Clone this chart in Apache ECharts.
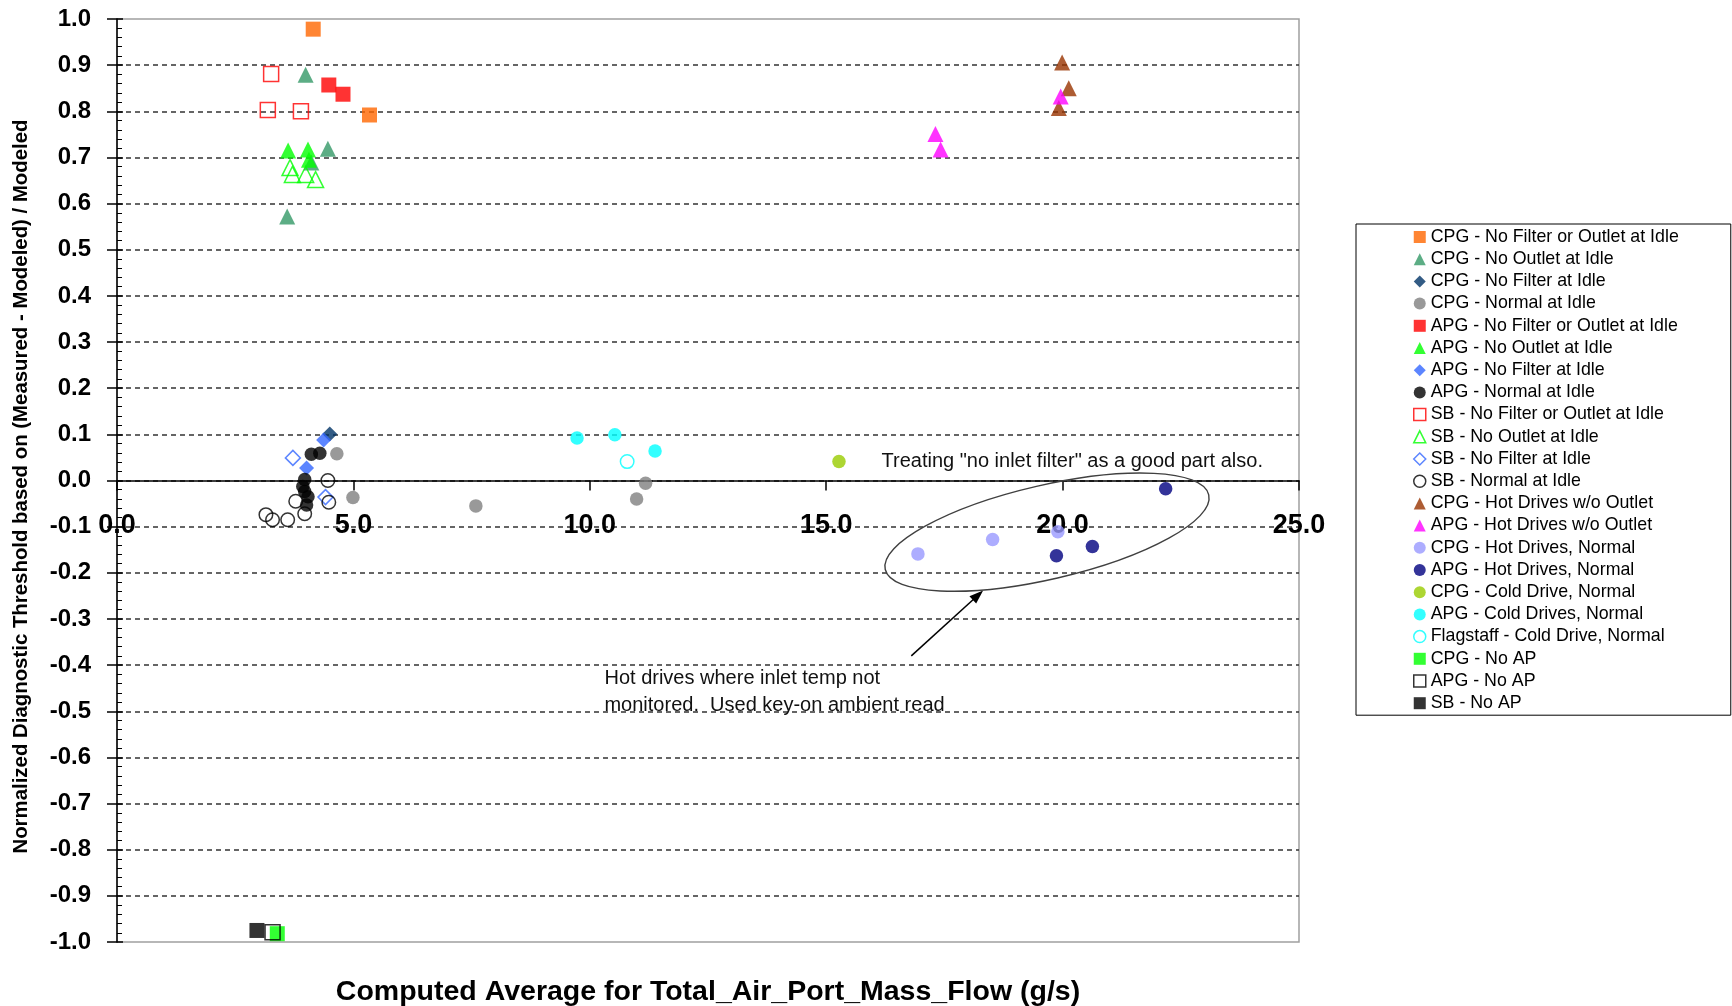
<!DOCTYPE html>
<html>
<head>
<meta charset="utf-8">
<script src="https://cdn.jsdelivr.net/npm/echarts@6/dist/echarts.min.js"></script>
<style>
html, body { margin: 0; padding: 0; background: #ffffff; }
#chart { width: 1732px; height: 1006px; }
</style>
</head>
<body>
<div id="chart"></div>
<script>
// Each point: [computed average Total_Air_Port_Mass_Flow (g/s), normalized diagnostic threshold]
const cpgNoFilterOrOutletIdle = [[4.15, 0.978], [5.34, 0.792]];
const cpgNoOutletIdle = [[3.99, 0.879], [4.46, 0.719], [3.60, 0.572], [4.11, 0.689]];
const cpgNoFilterIdle = [[4.50, 0.101]];
const cpgNormalIdle = [[4.65, 0.058], [4.99, -0.037], [7.59, -0.055], [10.99, -0.040], [11.18, -0.006]];
const apgNoFilterOrOutletIdle = [[4.48, 0.857], [4.78, 0.837]];
const apgNoOutletIdle = [[3.62, 0.715], [4.04, 0.717], [4.06, 0.695]];
const apgNoFilterIdle = [[4.37, 0.088], [4.01, 0.027]];
const apgNormalIdle = [[4.11, 0.057], [4.29, 0.059], [3.97, 0.002], [3.93, -0.013], [3.97, -0.024], [4.04, -0.035], [4.01, -0.053]];
const sbNoFilterOrOutletIdle = [[3.26, 0.881], [3.19, 0.803], [3.89, 0.800]];
const sbNoOutletIdle = [[3.66, 0.678], [3.71, 0.663], [3.99, 0.663], [4.20, 0.652]];
const sbNoFilterIdle = [[3.72, 0.049], [4.41, -0.036]];
const sbNormalIdle = [[3.15, -0.074], [3.29, -0.085], [3.61, -0.085], [3.97, -0.072], [3.78, -0.045], [4.46, 0.000], [4.48, -0.047]];
const cpgHotNoOutlet = [[19.99, 0.906], [20.13, 0.850], [19.92, 0.807]];
const apgHotNoOutlet = [[19.96, 0.832], [17.31, 0.751], [17.42, 0.717]];
const cpgHotNormal = [[16.94, -0.159], [18.52, -0.128], [19.90, -0.111]];
const apgHotNormal = [[22.18, -0.018], [19.87, -0.163], [20.63, -0.143]];
const cpgColdNormal = [[15.27, 0.041]];
const apgColdNormal = [[9.73, 0.092], [10.53, 0.099], [11.38, 0.064]];
const flagstaffColdNormal = [[10.79, 0.041]];
const cpgNoAP = [[3.39, -0.982]];
const apgNoAP = [[3.29, -0.979]];
const sbNoAP = [[2.96, -0.975]];

// Axis ranges
const xRange = { min: 0, max: 25, step: 5 };
const yRange = { min: -1, max: 1, step: 0.1 };

// Callouts (anchored in data units)
const goodPartNote = { text: 'Treating "no inlet filter" as a good part also.', at: [16.17, 0.042] };
const hotDriveNote = { lines: ['Hot drives where inlet temp not', 'monitored.  Used key-on ambient read'], at: [10.31, -0.428] };
const hotDriveRing = { center: [19.67, -0.112] };
const hotDriveArrow = { from: [16.80, -0.380], to: [18.21, -0.2485] };

const FONT = '"Liberation Sans", Arial, sans-serif';

const groups = [
  { name: 'CPG - No Filter or Outlet at Idle', data: cpgNoFilterOrOutletIdle, symbol: 'rect', color: '#FF6600' },
  { name: 'CPG - No Outlet at Idle', data: cpgNoOutletIdle, symbol: 'triangle', color: '#339966' },
  { name: 'CPG - No Filter at Idle', data: cpgNoFilterIdle, symbol: 'diamond', color: '#003366' },
  { name: 'CPG - Normal at Idle', data: cpgNormalIdle, symbol: 'circle', color: '#808080' },
  { name: 'APG - No Filter or Outlet at Idle', data: apgNoFilterOrOutletIdle, symbol: 'rect', color: '#FF0000' },
  { name: 'APG - No Outlet at Idle', data: apgNoOutletIdle, symbol: 'triangle', color: '#00FF00' },
  { name: 'APG - No Filter at Idle', data: apgNoFilterIdle, symbol: 'diamond', color: '#3366FF' },
  { name: 'APG - Normal at Idle', data: apgNormalIdle, symbol: 'circle', color: '#000000' },
  { name: 'SB - No Filter or Outlet at Idle', data: sbNoFilterOrOutletIdle, symbol: 'rect', color: '#FF0000', hollow: true },
  { name: 'SB - No Outlet at Idle', data: sbNoOutletIdle, symbol: 'triangle', color: '#00FF00', hollow: true },
  { name: 'SB - No Filter at Idle', data: sbNoFilterIdle, symbol: 'diamond', color: '#3366FF', hollow: true },
  { name: 'SB - Normal at Idle', data: sbNormalIdle, symbol: 'circle', color: '#000000', hollow: true },
  { name: 'CPG - Hot Drives w/o Outlet', data: cpgHotNoOutlet, symbol: 'triangle', color: '#993300' },
  { name: 'APG - Hot Drives w/o Outlet', data: apgHotNoOutlet, symbol: 'triangle', color: '#FF00FF' },
  { name: 'CPG - Hot Drives, Normal', data: cpgHotNormal, symbol: 'circle', color: '#9999FF' },
  { name: 'APG - Hot Drives, Normal', data: apgHotNormal, symbol: 'circle', color: '#000080' },
  { name: 'CPG - Cold Drive, Normal', data: cpgColdNormal, symbol: 'circle', color: '#99CC00' },
  { name: 'APG - Cold Drives, Normal', data: apgColdNormal, symbol: 'circle', color: '#00FFFF' },
  { name: 'Flagstaff - Cold Drive, Normal', data: flagstaffColdNormal, symbol: 'circle', color: '#00FFFF', hollow: true },
  { name: 'CPG - No AP', data: cpgNoAP, symbol: 'rect', color: '#00FF00' },
  { name: 'APG - No AP', data: apgNoAP, symbol: 'rect', color: '#000000', hollow: true },
  { name: 'SB - No AP', data: sbNoAP, symbol: 'rect', color: '#000000' }
];

const markerSize = { rect: 15, triangle: 16, diamond: 15, circle: 13.5 };

function fmt(v) {
  return Math.abs(v) < 1e-9 ? '0.0' : v.toFixed(1);
}

const chart = echarts.init(document.getElementById('chart'), null, { renderer: 'canvas' });

const option = {
  animation: false,
  backgroundColor: '#ffffff',
  textStyle: { fontFamily: FONT },
  grid: {
    left: 117, right: 433, top: 19, bottom: 64,
    containLabel: false,
    outerBoundsMode: 'none',
    show: true, borderColor: '#A0A0A0', borderWidth: 1.5, backgroundColor: 'transparent'
  },
  xAxis: {
    type: 'value',
    min: xRange.min, max: xRange.max, interval: xRange.step,
    name: 'Computed Average for Total_Air_Port_Mass_Flow (g/s)',
    nameLocation: 'middle',
    nameGap: 36,
    nameTextStyle: { fontFamily: FONT, fontSize: 28.5, fontWeight: 'bold', color: '#000' },
    axisLine: { onZero: true, lineStyle: { color: '#000', width: 1.5 } },
    axisTick: { show: true, length: 10, lineStyle: { color: '#000', width: 1.5 } },
    axisLabel: {
      // tick numbers sit just under the zero line
      formatter: fmt, fontFamily: FONT, fontSize: 27, fontWeight: 'bold', color: '#000',
      margin: -430, showMinLabel: true, showMaxLabel: true, hideOverlap: false
    },
    splitLine: { show: false }
  },
  yAxis: [
    {
      type: 'value',
      min: yRange.min, max: yRange.max, interval: yRange.step,
      name: 'Normalized Diagnostic Threshold based on (Measured - Modeled) / Modeled',
      nameLocation: 'middle',
      nameGap: 86,
      nameTextStyle: { fontFamily: FONT, fontSize: 20.4, fontWeight: 'bold', color: '#000', padding: [0, 12, 0, 0] },
      axisLine: { show: true, onZero: false, lineStyle: { color: '#000', width: 1.5 } },
      axisTick: { show: true, length: 10, lineStyle: { color: '#000', width: 1.5 } },
      axisLabel: {
        formatter: fmt, fontFamily: FONT, fontSize: 24, fontWeight: 'bold', color: '#000',
        margin: 26, showMinLabel: true, showMaxLabel: true, hideOverlap: false
      },
      splitLine: {
        show: true, showMinLine: false, showMaxLine: false,
        lineStyle: { color: '#333333', width: 1.5, type: [5, 4] }
      }
    },
    {
      // inner tick marks (major + minor) along the left axis
      type: 'value',
      min: yRange.min, max: yRange.max, interval: yRange.step,
      position: 'left',
      axisLine: { show: false, onZero: false },
      axisTick: { show: true, inside: true, length: 6, lineStyle: { color: '#000', width: 1.5 } },
      minorTick: { show: true, splitNumber: 5, length: 5, lineStyle: { color: '#000', width: 1 } },
      axisLabel: { show: false },
      splitLine: { show: false }
    }
  ],
  legend: {
    orient: 'vertical',
    left: 1356, top: 224,
    padding: [4, 52, 3, 57],
    itemWidth: 12, itemHeight: 12, itemGap: 4.2,
    borderColor: '#000', borderWidth: 1,
    selectedMode: false,
    textStyle: { fontFamily: FONT, fontSize: 17.8, lineHeight: 17.8, color: '#000' },
    data: groups.map(g => ({
      name: g.name,
      icon: g.symbol,
      itemStyle: g.hollow
        ? { color: '#ffffff', borderColor: g.color, borderWidth: 1.5 }
        : { color: g.color, borderWidth: 0 }
    }))
  },
  series: groups.map(g => ({
    type: 'scatter',
    name: g.name,
    data: g.data,
    symbol: g.symbol,
    symbolSize: markerSize[g.symbol],
    yAxisIndex: 0,
    itemStyle: g.hollow
      ? { color: 'transparent', borderColor: g.color, borderWidth: 1.5 }
      : { color: g.color },
    emphasis: { disabled: true },
    silent: true
  })).concat([{
    type: 'scatter',
    name: 'callout-arrow',
    data: [],
    yAxisIndex: 0,
    silent: true,
    markLine: {
      silent: true,
      symbol: ['none', 'triangle'],
      symbolSize: [10, 14],
      label: { show: false },
      lineStyle: { color: '#000', width: 1.5, type: 'solid' },
      emphasis: { disabled: true },
      data: [[{ coord: hotDriveArrow.from }, { coord: hotDriveArrow.to }]]
    }
  }])
};

chart.setOption(option);

// Callout text and ring, placed from data coordinates
const toPx = p => chart.convertToPixel({ xAxisIndex: 0, yAxisIndex: 0 }, p);
const gp = toPx(goodPartNote.at);
const hp = toPx(hotDriveNote.at);
const rc = toPx(hotDriveRing.center);

chart.setOption({
  graphic: [
    {
      type: 'text', silent: true, z: 10,
      x: gp[0], y: gp[1],
      style: {
        text: goodPartNote.text, fill: '#111', font: '20px ' + FONT,
        align: 'left', verticalAlign: 'middle', textAlign: 'left', textVerticalAlign: 'middle'
      }
    },
    {
      type: 'text', silent: true, z: 10,
      x: hp[0], y: hp[1],
      style: {
        text: hotDriveNote.lines[0], fill: '#111', font: '20px ' + FONT,
        align: 'left', verticalAlign: 'middle', textAlign: 'left', textVerticalAlign: 'middle'
      }
    },
    {
      type: 'text', silent: true, z: 10,
      x: hp[0], y: hp[1] + 27,
      style: {
        text: hotDriveNote.lines[1], fill: '#111', font: '20px ' + FONT,
        align: 'left', verticalAlign: 'middle', textAlign: 'left', textVerticalAlign: 'middle'
      }
    },
    {
      type: 'ellipse', silent: true, z: 10,
      x: rc[0], y: rc[1],
      rotation: 13 * Math.PI / 180,
      shape: { cx: 0, cy: 0, rx: 166, ry: 47 },
      style: { fill: 'none', stroke: '#404040', lineWidth: 1.4 }
    }
  ]
});
</script>
</body>
</html>
